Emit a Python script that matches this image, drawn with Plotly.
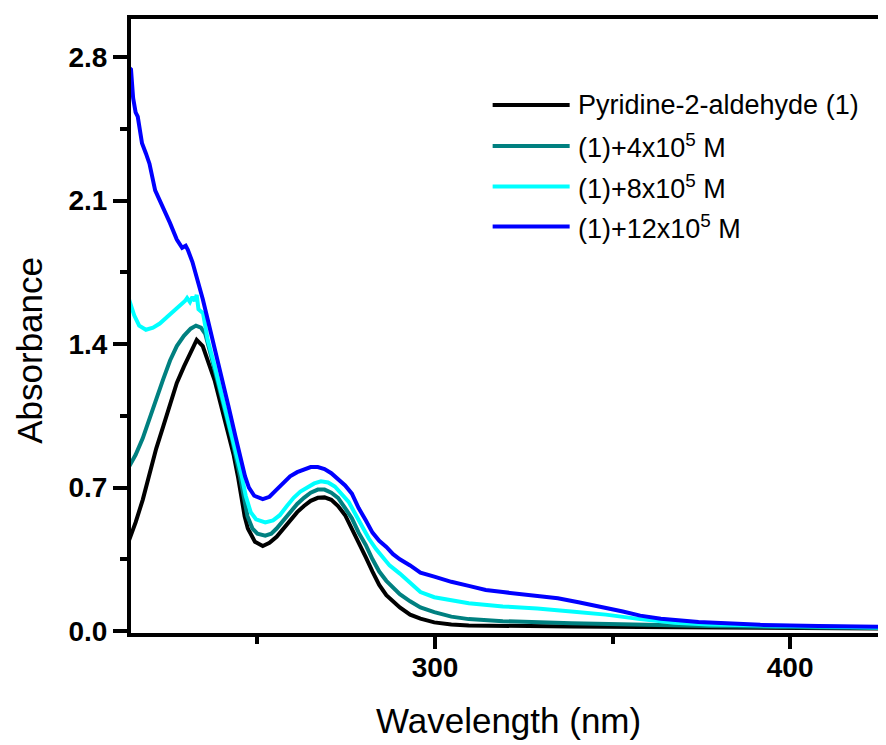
import plotly.graph_objects as go

# absorbance spectra (wavelength nm, absorbance)
wl_base = [213.8, 215.7, 217.7, 219.6, 221.5, 223.5, 225.4, 227.3, 229.3, 231.2,
           232.9, 234.6, 236.0, 238.0, 239.9, 241.8, 243.3, 244.5, 245.5, 246.4,
           247.3, 249.3, 251.5, 253.4, 255.4, 257.3, 259.2, 261.2, 263.1, 265.0,
           267.0, 268.9, 270.8, 272.7, 274.7, 276.6, 278.5, 280.5, 282.4, 284.3,
           286.3, 288.2, 290.1, 293.0, 295.9, 299.8, 304.6, 309.5, 319.1, 338.4,
           357.8, 377.1, 396.4, 427.3]
abs_base = [0.44, 0.53, 0.64, 0.77, 0.89, 1.00, 1.11, 1.21, 1.29, 1.36,
            1.42, 1.39, 1.32, 1.22, 1.09, 0.96, 0.86, 0.755, 0.64, 0.56,
            0.50, 0.435, 0.415, 0.43, 0.46, 0.50, 0.54, 0.58, 0.61, 0.635,
            0.65, 0.652, 0.64, 0.61, 0.565, 0.50, 0.43, 0.36, 0.29, 0.225,
            0.175, 0.145, 0.115, 0.08, 0.06, 0.042, 0.032, 0.027, 0.024, 0.022,
            0.02, 0.018, 0.016, 0.012]

wl_4 = [213.8, 215.7, 217.7, 219.6, 221.5, 223.5, 225.4, 227.3, 229.3, 231.2,
        232.7, 234.1, 235.3, 237.0, 238.9, 240.9, 242.8, 245.1, 246.2, 247.2,
        248.6, 250.0, 252.2, 253.9, 255.4, 257.3, 259.2, 261.2, 263.1, 265.0,
        267.0, 268.9, 270.8, 272.7, 274.7, 276.6, 278.5, 280.5, 282.4, 284.3,
        286.3, 288.2, 290.1, 293.0, 295.9, 299.8, 304.6, 309.5, 319.1, 338.4,
        357.8, 377.1, 396.4, 427.3]
abs_4 = [0.80, 0.86, 0.94, 1.03, 1.13, 1.23, 1.32, 1.39, 1.44, 1.475,
         1.49, 1.48, 1.45, 1.34, 1.21, 1.08, 0.94, 0.755, 0.64, 0.56,
         0.50, 0.475, 0.465, 0.475, 0.50, 0.54, 0.58, 0.62, 0.65, 0.675,
         0.69, 0.69, 0.675, 0.65, 0.60, 0.55, 0.48, 0.42, 0.35, 0.29,
         0.245, 0.21, 0.18, 0.145, 0.115, 0.092, 0.07, 0.058, 0.048, 0.038,
         0.03, 0.025, 0.02, 0.014]

wl_8 = [213.8, 215.3, 216.7, 218.6, 220.6, 222.5, 224.4, 226.4, 228.3, 229.6,
        230.2, 231.0, 231.7, 232.4, 232.9, 233.4, 234.7, 236.0, 238.0, 239.9,
        241.8, 243.8, 245.6, 246.7, 248.1, 249.6, 252.2, 254.4, 256.3, 258.3,
        260.2, 262.1, 264.1, 266.0, 267.9, 269.9, 271.8, 273.7, 275.7, 277.6,
        279.5, 281.4, 283.4, 285.3, 287.2, 290.1, 293.0, 295.9, 299.8, 304.6,
        309.5, 319.1, 328.8, 338.4, 348.1, 357.8, 367.4, 377.1, 396.4, 427.3]
abs_8 = [1.62, 1.54, 1.49, 1.47, 1.48, 1.50, 1.53, 1.56, 1.59, 1.61,
         1.625, 1.605, 1.63, 1.61, 1.64, 1.57, 1.55, 1.42, 1.29, 1.16,
         1.02, 0.88, 0.755, 0.66, 0.58, 0.545, 0.53, 0.54, 0.565, 0.61,
         0.65, 0.68, 0.70, 0.72, 0.73, 0.725, 0.705, 0.67, 0.63, 0.57,
         0.51, 0.45, 0.40, 0.36, 0.32, 0.28, 0.235, 0.19, 0.165, 0.148,
         0.135, 0.12, 0.11, 0.095, 0.08, 0.058, 0.04, 0.032, 0.024, 0.016]

wl_12 = [213.8, 214.4, 215.0, 215.7, 216.3, 217.5, 218.6, 219.6, 221.2, 222.5,
         224.0, 225.4, 227.3, 228.8, 229.8, 230.4, 231.7, 233.1, 234.6, 236.0,
         238.0, 239.9, 241.8, 243.8, 245.2, 246.5, 247.6, 249.1, 251.5, 253.4,
         255.4, 257.3, 259.2, 261.2, 263.1, 265.0, 267.0, 268.9, 270.8, 272.7,
         274.7, 276.6, 278.5, 280.5, 282.4, 284.3, 286.3, 288.2, 290.1, 293.0,
         295.9, 299.8, 304.6, 309.5, 314.3, 319.1, 324.0, 328.8, 334.6, 340.4,
         346.2, 352.9, 357.8, 363.6, 374.2, 391.6, 408.0, 427.3]
abs_12 = [2.75, 2.74, 2.60, 2.53, 2.51, 2.38, 2.33, 2.28, 2.15, 2.10,
          2.05, 1.99, 1.91, 1.87, 1.88, 1.86, 1.80, 1.72, 1.62, 1.52,
          1.38, 1.24, 1.10, 0.95, 0.84, 0.755, 0.70, 0.66, 0.643, 0.655,
          0.69, 0.72, 0.755, 0.775, 0.79, 0.80, 0.80, 0.79, 0.77, 0.74,
          0.71, 0.67, 0.60, 0.54, 0.48, 0.44, 0.41, 0.375, 0.35, 0.32,
          0.285, 0.265, 0.24, 0.22, 0.20, 0.19, 0.18, 0.17, 0.16, 0.14,
          0.12, 0.095, 0.075, 0.06, 0.044, 0.03, 0.025, 0.02]

names = ["Pyridine-2-aldehyde (1)",
         "(1)+4x10<sup>5</sup> M",
         "(1)+8x10<sup>5</sup> M",
         "(1)+12x10<sup>5</sup> M"]
colors = ["#000000", "#008080", "#00FFFF", "#0000FF"]
series = [(wl_base, abs_base), (wl_4, abs_4), (wl_8, abs_8), (wl_12, abs_12)]

FONT = "Liberation Sans"

fig = go.Figure()
for (x, y), name, c in zip(series, names, colors):
    fig.add_trace(go.Scatter(x=x, y=y, mode="lines", name=name,
                             line=dict(color=c, width=4), showlegend=False))

# hand-made legend, long line samples like the original
legend_y = [0.860, 0.793, 0.727, 0.662]
for name, c, ly in zip(names, colors, legend_y):
    fig.add_shape(type="line", xref="paper", yref="paper",
                  x0=0.479, x1=0.581, y0=ly, y1=ly,
                  line=dict(color=c, width=4))
    fig.add_annotation(xref="paper", yref="paper", x=0.590, y=ly,
                       text=name, showarrow=False, xanchor="left", yanchor="middle",
                       font=dict(family=FONT, size=27, color="black"))

fig.add_annotation(xref="paper", yref="paper", x=-0.134, y=0.461,
                   text="Absorbance", textangle=-90, showarrow=False,
                   xanchor="center", yanchor="middle",
                   font=dict(family=FONT, size=35, color="black"))
fig.add_annotation(xref="paper", yref="paper", x=0.5, y=-0.142,
                   text="Wavelength (nm)", showarrow=False,
                   xanchor="center", yanchor="middle",
                   font=dict(family=FONT, size=35, color="black"))

fig.update_xaxes(
    range=[214.4, 427.0],
    showgrid=False, zeroline=False,
    showline=True, linecolor="black", linewidth=4, mirror=True,
    tick0=0, dtick=100, ticks="outside", ticklen=12, tickwidth=4, tickcolor="black",
    ticklabelstandoff=-6,
    minor=dict(dtick=50, tick0=0, ticks="outside", ticklen=7, tickwidth=4, tickcolor="black"),
    tickfont=dict(family=FONT, size=28, color="black", weight="bold"),
)
fig.update_yaxes(
    range=[-0.0097, 2.986],
    showgrid=False, zeroline=False,
    showline=True, linecolor="black", linewidth=4,
    tick0=0, dtick=0.7, tickformat=".1f",
    ticks="outside", ticklen=14, tickwidth=4, tickcolor="black",
    minor=dict(dtick=0.35, tick0=0, ticks="outside", ticklen=7, tickwidth=4, tickcolor="black"),
    tickfont=dict(family=FONT, size=28, color="black", weight="bold"),
)

# the page body adds an 8px margin, so the figure is sized to fit inside it
fig.update_layout(
    width=878, height=737,
    margin=dict(l=123, r=0, t=11, b=112),
    plot_bgcolor="white", paper_bgcolor="white",
    showlegend=False,
)

fig.write_html("out.html")
